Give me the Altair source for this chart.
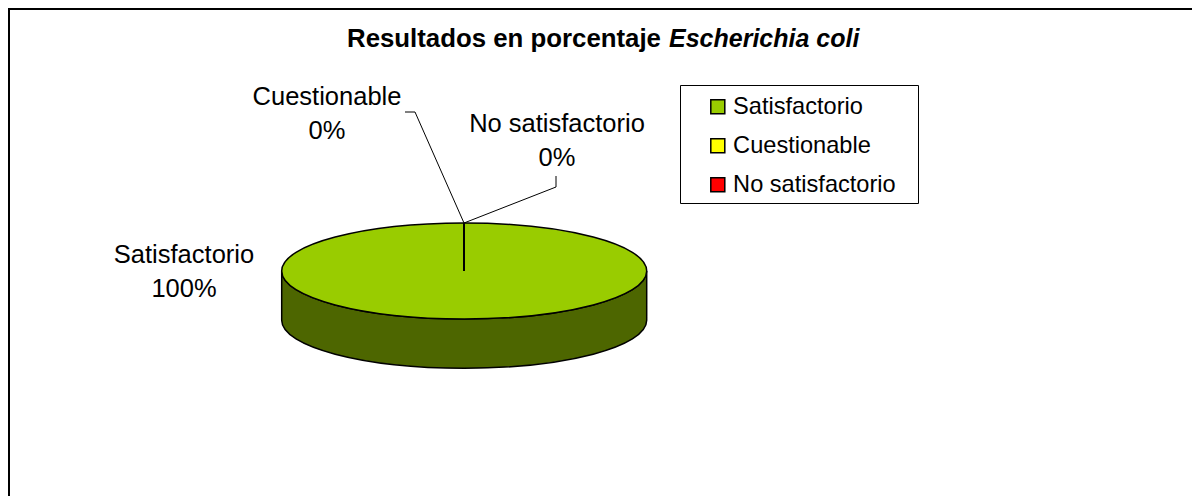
import altair as alt
import pandas as pd

categories = ["Satisfactorio", "Cuestionable", "No satisfactorio"]
values = [100, 0, 0]
colors = ["#99CC00", "#FFFF00", "#FF0000"]
title_main = "Resultados en porcentaje"
title_species = "Escherichia coli"

FONT = "Liberation Sans"
W, H = 1184, 488


def px(v):
    return alt.value(v - 8)


def py(v):
    return alt.value(v - 8)


df = pd.DataFrame({"cat": categories, "val": values})
base = alt.Chart(df)
one = alt.Chart(pd.DataFrame({"k": [0]}))

TOP = "M-1 0A1 .263 0 1 1 1 0A1 .263 0 1 1 -1 0Z"
SIDE = "M-1 0A1 .263 0 0 0 1 0L1 .27A1 .263 0 0 1 -1 .27Z"
PIE_SIZE = 365 ** 2


def seg(x1, y1, x2, y2, w=1.0, color="#000000"):
    return one.mark_rule(stroke=color, strokeWidth=w).encode(
        x=px(x1), x2=px(x2), y=py(y1), y2=py(y2)
    )


def label(cat, x, y):
    return (
        base.transform_filter(alt.datum.cat == cat)
        .transform_calculate(txt="datum.cat + '\\n' + datum.val + '%'")
        .mark_text(font=FONT, fontSize=25.5, color="#000000", align="center",
                   baseline="middle", lineBreak="\n", lineHeight=34)
        .encode(x=px(x), y=py(y), text="txt:N")
    )


border_top = one.mark_rule(stroke="#000000", strokeWidth=2).encode(
    x=alt.value(0), x2=alt.value(W), y=alt.value(1), y2=alt.value(1))
border_left = one.mark_rule(stroke="#000000", strokeWidth=2).encode(
    x=alt.value(1), x2=alt.value(1), y=alt.value(0), y2=alt.value(H))

side = one.mark_point(shape=SIDE, filled=True, fill="#4D6600", stroke="#000000",
                      strokeWidth=1.5, opacity=1, size=PIE_SIZE).encode(x=px(464.2), y=py(271))

top = (
    base.transform_filter(alt.datum.val > 0)
    .mark_point(shape=TOP, filled=True, stroke="#000000", strokeWidth=1.5, opacity=1, size=PIE_SIZE)
    .encode(
        x=px(464.2),
        y=py(271),
        fill=alt.Fill(
            "cat:N",
            scale=alt.Scale(domain=categories, range=colors),
            legend=alt.Legend(
                title=None,
                orient="none",
                legendX=706 - 8,
                legendY=95 - 8,
                symbolType="square",
                symbolSize=196,
                symbolStrokeColor="#000000",
                symbolStrokeWidth=1.5,
                symbolOpacity=1,
                labelFont=FONT,
                labelFontSize=23.6,
                labelColor="#000000",
                labelOffset=3.5,
                labelLimit=300,
                rowPadding=14,
                padding=0,
            ),
        ),
    )
)

legend_box = one.mark_rect(fill="#FFFFFF", stroke="#000000", strokeWidth=1).encode(
    x=px(680.5), x2=px(918.5), y=py(85.5), y2=py(203.5))

title1 = one.transform_calculate(t=f"'{title_main}'").mark_text(
    font=FONT, fontSize=25.8, fontWeight="bold", align="left", baseline="middle", color="#000000"
).encode(x=px(347), y=py(39), text="t:N")
title2 = one.transform_calculate(t=f"'{title_species}'").mark_text(
    font=FONT, fontSize=25, fontWeight="bold", fontStyle="italic", align="left", baseline="middle", color="#000000"
).encode(x=px(669), y=py(39), text="t:N")

chart = alt.layer(
    border_top, border_left, legend_box, title1, title2,
    side, top,
    seg(464, 223, 464, 271, 2),
    seg(464, 223, 415, 112),
    seg(415, 112, 405, 112),
    seg(464, 223, 556, 187),
    seg(556, 187, 556, 176),
    label("Cuestionable", 327, 97),
    label("No satisfactorio", 557, 123.5),
    label("Satisfactorio", 184, 254.5),
).properties(
    width=W, height=H, padding=0, background="#FFFFFF",
    autosize=alt.AutoSizeParams(type="none"),
).configure_view(stroke=None)

chart.save("out.html", embed_options={"renderer": "svg", "actions": False})
